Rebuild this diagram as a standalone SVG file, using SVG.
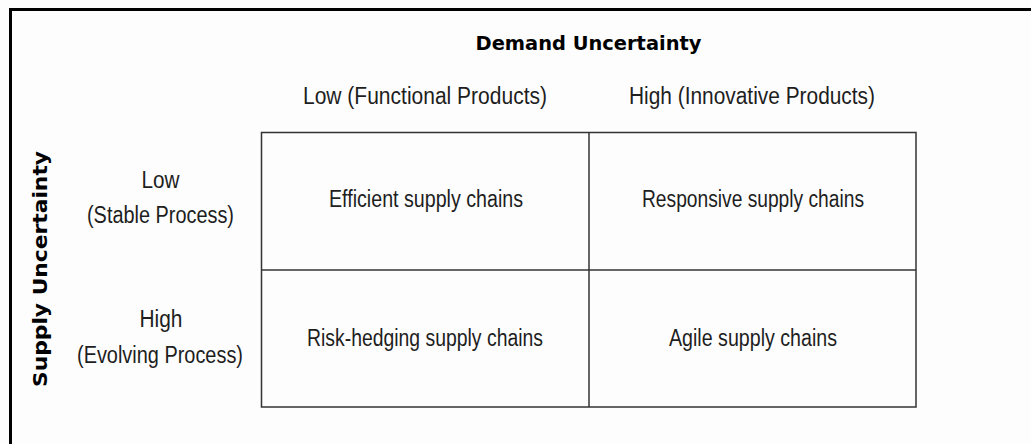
<svg xmlns="http://www.w3.org/2000/svg" width="1031" height="444" viewBox="0 0 1031 444">
  <style>
    .lbl { font-family: "Liberation Sans", Arial, sans-serif; font-size: 23px; fill: #1e1e1e; text-anchor: middle; }
    .ttl { font-family: "DejaVu Sans", Verdana, sans-serif; font-weight: bold; font-size: 20px; fill: #000; text-anchor: middle; }
    .grid { fill: none; stroke: #333; stroke-width: 1.5; }
  </style>
  <rect x="0" y="0" width="1031" height="444" fill="#fdfdfd"/>
  <rect x="10.5" y="9.5" width="1100" height="500" fill="none" stroke="#000" stroke-width="3"/>

  <g id="axis-demand">
    <text class="ttl" x="588.5" y="50" textLength="226" lengthAdjust="spacingAndGlyphs">Demand Uncertainty</text>
  </g>
  <g id="axis-supply">
    <text class="ttl" transform="translate(47,269) rotate(-90)" x="0" y="0" textLength="236" lengthAdjust="spacingAndGlyphs">Supply Uncertainty</text>
  </g>

  <g id="col-low">
    <text class="lbl" x="425" y="104" textLength="244" lengthAdjust="spacingAndGlyphs">Low (Functional Products)</text>
  </g>
  <g id="col-high">
    <text class="lbl" x="752" y="104" textLength="246" lengthAdjust="spacingAndGlyphs">High (Innovative Products)</text>
  </g>

  <g id="row-low">
    <text class="lbl" x="160.5" y="188" textLength="38" lengthAdjust="spacingAndGlyphs">Low</text>
    <text class="lbl" x="160.5" y="223" textLength="147" lengthAdjust="spacingAndGlyphs">(Stable Process)</text>
  </g>
  <g id="row-high">
    <text class="lbl" x="161" y="327" textLength="43" lengthAdjust="spacingAndGlyphs">High</text>
    <text class="lbl" x="160" y="363" textLength="166" lengthAdjust="spacingAndGlyphs">(Evolving Process)</text>
  </g>

  <g id="connectors">
    <rect class="grid" x="261.5" y="132.5" width="654.5" height="274.5"/>
    <line class="grid" x1="589" y1="132.5" x2="589" y2="407"/>
    <line class="grid" x1="261.5" y1="270" x2="916" y2="270"/>
  </g>

  <g id="cell-efficient">
    <text class="lbl" x="426" y="207" textLength="194" lengthAdjust="spacingAndGlyphs">Efficient supply chains</text>
  </g>
  <g id="cell-responsive">
    <text class="lbl" x="753" y="207" textLength="222" lengthAdjust="spacingAndGlyphs">Responsive supply chains</text>
  </g>
  <g id="cell-risk">
    <text class="lbl" x="425" y="346" textLength="236" lengthAdjust="spacingAndGlyphs">Risk-hedging supply chains</text>
  </g>
  <g id="cell-agile">
    <text class="lbl" x="753" y="346" textLength="168" lengthAdjust="spacingAndGlyphs">Agile supply chains</text>
  </g>
</svg>
